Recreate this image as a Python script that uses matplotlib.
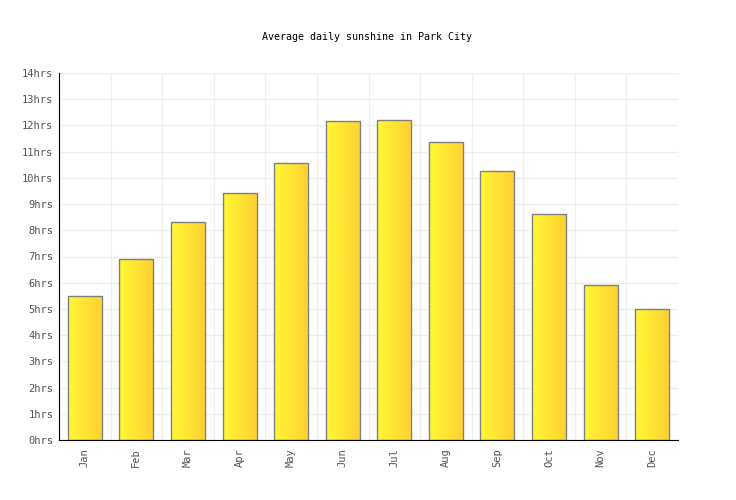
import numpy as np
import matplotlib
matplotlib.use('Agg')
import matplotlib.pyplot as plt
from matplotlib.colors import LinearSegmentedColormap

# data
months = ['Jan', 'Feb', 'Mar', 'Apr', 'May', 'Jun',
          'Jul', 'Aug', 'Sep', 'Oct', 'Nov', 'Dec']
sunshine = [5.5, 6.92, 8.3, 9.44, 10.55, 12.16,
            12.2, 11.36, 10.25, 8.61, 5.9, 5.0]
y_ticks = list(range(0, 15))
y_labels = ['%dhrs' % v for v in y_ticks]

plt.rcParams['font.family'] = 'DejaVu Sans Mono'

fig = plt.figure(figsize=(7.36, 5), dpi=100)
ax = fig.add_axes([59 / 736, 60 / 500, 619 / 736, 367 / 500])

x = np.arange(len(months))
bars = ax.bar(x, sunshine, width=0.66, facecolor='none',
              edgecolor='#808080', linewidth=1, zorder=3)

# left-to-right yellow gradient, clipped to each bar
cmap = LinearSegmentedColormap.from_list('sun', ['#fff833', '#ffd033'])
grad = np.linspace(0, 1, 64).reshape(1, -1)
for b in bars:
    x0, w, h = b.get_x(), b.get_width(), b.get_height()
    im = ax.imshow(grad, cmap=cmap, extent=(x0, x0 + w, 0, h),
                   aspect='auto', zorder=2, interpolation='bilinear')
    im.set_clip_path(b)

ax.set_xlim(-0.5, len(months) - 0.5)
ax.set_ylim(0, 14)

ax.set_yticks(y_ticks)
ax.set_yticklabels(y_labels)
ax.set_xticks(x)
ax.set_xticklabels(months, rotation=90)
ax.set_xticks(np.arange(-0.5, len(months), 1), minor=True)
ax.tick_params(axis='both', length=0, labelsize=7.5, colors='#555555')
ax.tick_params(axis='x', pad=6)
ax.tick_params(axis='y', pad=4)
ax.tick_params(which='minor', length=0)

ax.grid(True, axis='y', color='#eeeeee', linewidth=0.9, zorder=0)
ax.grid(True, axis='x', which='minor', color='#eeeeee', linewidth=0.9, zorder=0)
ax.grid(False, axis='x', which='major')
ax.set_axisbelow(True)

for s in ['top', 'right']:
    ax.spines[s].set_visible(False)
ax.spines['left'].set_color('black')
ax.spines['bottom'].set_color('black')

fig.text(367 / 736, 1 - 37 / 500, 'Average daily sunshine in Park City',
         ha='center', va='center', fontsize=7.2, color='black')

fig.savefig('out.png', dpi=100)
